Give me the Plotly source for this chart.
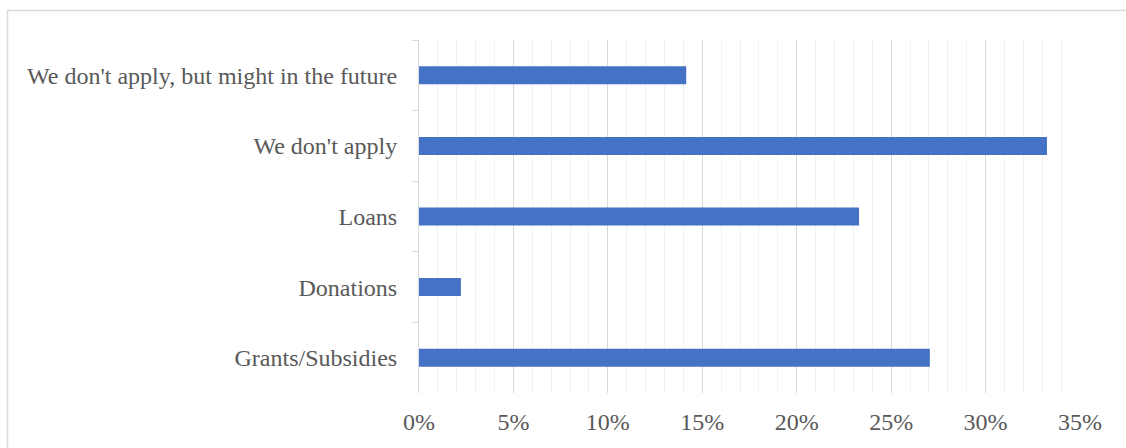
import plotly.graph_objects as go

categories = [
    "We don't apply, but might in the future",
    "We don't apply",
    "Loans",
    "Donations",
    "Grants/Subsidies",
]
values = [0.1415, 0.3325, 0.233, 0.0222, 0.2705]
x_tick_vals = [0, 0.05, 0.10, 0.15, 0.20, 0.25, 0.30, 0.35]

W, H = 1126, 448
L, R, T, B = 419, 46, 40, 55
pw, ph = W - L - R, H - T - B

fig = go.Figure(
    go.Bar(
        x=values,
        y=categories,
        orientation="h",
        marker=dict(color="#4472C4", line=dict(width=0)),
        width=0.255,
    )
)

font = dict(family="Liberation Serif, Times New Roman, serif", size=24, color="#595959")

fig.update_layout(
    width=W,
    height=H,
    margin=dict(l=L, r=R, t=T, b=B, pad=0),
    paper_bgcolor="white",
    plot_bgcolor="white",
    showlegend=False,
    font=font,
    xaxis=dict(
        range=[0, 0.35],
        tickvals=x_tick_vals,
        tickformat=".0%",
        showgrid=True,
        gridcolor="#d9d9d9",
        gridwidth=1,
        minor=dict(dtick=0.01, showgrid=True, gridcolor="#f2f2f2", gridwidth=1),
        zeroline=False,
        showline=False,
        ticks="",
        ticklabelstandoff=12,
        tickfont=font,
    ),
    yaxis=dict(
        autorange="reversed",
        showgrid=False,
        zeroline=False,
        showline=True,
        linecolor="#d9d9d9",
        linewidth=1,
        ticks="outside",
        tickson="boundaries",
        ticklen=6,
        tickcolor="#d9d9d9",
        ticklabelstandoff=16,
        tickfont=font,
    ),
    shapes=[
        dict(
            type="rect",
            xref="paper",
            yref="paper",
            x0=(7.5 - L) / pw,
            x1=(W + 20 - L) / pw,
            y0=-(B + 20) / ph,
            y1=(H - 10.5 - B) / ph,
            line=dict(color="#d9d9d9", width=1.5),
            fillcolor="rgba(0,0,0,0)",
            layer="below",
        )
    ],
)

fig.write_html("out.html")
